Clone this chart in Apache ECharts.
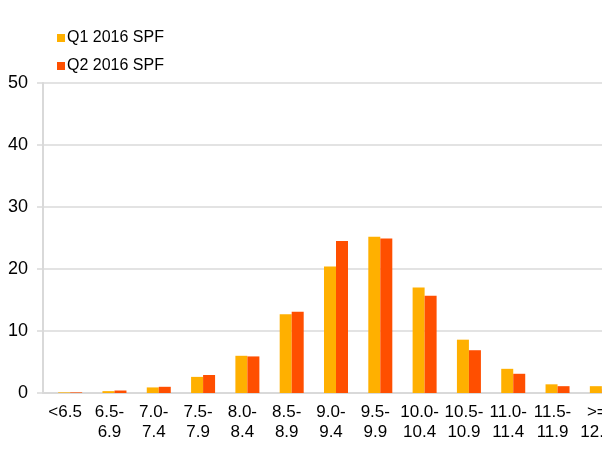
<!DOCTYPE html>
<html>
<head>
<meta charset="utf-8">
<script src="https://cdn.jsdelivr.net/npm/echarts@6/dist/echarts.min.js"></script>
<style>
html, body { margin: 0; padding: 0; background: #fff; overflow: hidden; }
#main { width: 620px; height: 449px; }
</style>
</head>
<body>
<div id="main"></div>
<script>
var categories = ['<6.5', '6.5-\n6.9', '7.0-\n7.4', '7.5-\n7.9', '8.0-\n8.4', '8.5-\n8.9', '9.0-\n9.4',
	'9.5-\n9.9', '10.0-\n10.4', '10.5-\n10.9', '11.0-\n11.4', '11.5-\n11.9', '>=\n12.0'];
var q1Values = [0.1, 0.3, 0.9, 2.6, 6.0, 12.7, 20.4, 25.2, 17.0, 8.6, 3.9, 1.4, 1.1];
var q2Values = [0.1, 0.4, 1.0, 2.9, 5.9, 13.1, 24.5, 24.9, 15.7, 6.9, 3.1, 1.1, 0.6];
var seriesNames = ['Q1 2016 SPF', 'Q2 2016 SPF'];
var yTicks = [0, 10, 20, 30, 40, 50];

// the plot runs past the right edge of the window, like the original
var myChart = echarts.init(document.getElementById('main'));
option = {
	color: ['#ffb000', '#ff4f00'],
	textStyle: { fontFamily: 'Liberation Sans' },
	legend: {
		orient: 'vertical',
		left: 52,
		top: 25,
		itemWidth: 8,
		itemHeight: 8,
		itemGap: 12,
		icon: 'rect',
		textStyle: { fontSize: 16, color: '#000', padding: [0, 0, 0, -3] },
		data: seriesNames
	},
	grid: {
		left: 43,
		right: 1,
		top: 83,
		bottom: 56,
		containLabel: false
	},
	xAxis: {
		type: 'category',
		data: categories,
		axisLine: { lineStyle: { color: '#d9d9d9', width: 2 } },
		axisTick: { length: 5, lineStyle: { color: '#d9d9d9', width: 1.5 } },
		axisLabel: { interval: 0, fontSize: 17, color: '#000', lineHeight: 20, margin: 9 }
	},
	yAxis: {
		type: 'value',
		min: yTicks[0],
		max: yTicks[yTicks.length - 1],
		interval: 10,
		axisLine: { show: true, lineStyle: { color: '#d9d9d9', width: 2 } },
		axisTick: { show: true, length: 6, lineStyle: { color: '#d9d9d9', width: 1.5 } },
		splitLine: { lineStyle: { color: '#e3e3e3', width: 2 } },
		axisLabel: { fontSize: 18, color: '#000', margin: 15 }
	},
	series: [{
		// empty spacer: pushes the bar pair a little right of the label, as in the original
		name: 'spacer',
		type: 'bar',
		barWidth: 10,
		barGap: '0%',
		data: []
	}, {
		name: seriesNames[0],
		type: 'bar',
		barWidth: 12,
		barGap: '0%',
		data: q1Values
	}, {
		name: seriesNames[1],
		type: 'bar',
		barWidth: 12,
		barGap: '0%',
		data: q2Values
	}]
};
option.color = ['#ffffff', '#ffb000', '#ff4f00'];
myChart.setOption(option);
</script>
</body>
</html>
